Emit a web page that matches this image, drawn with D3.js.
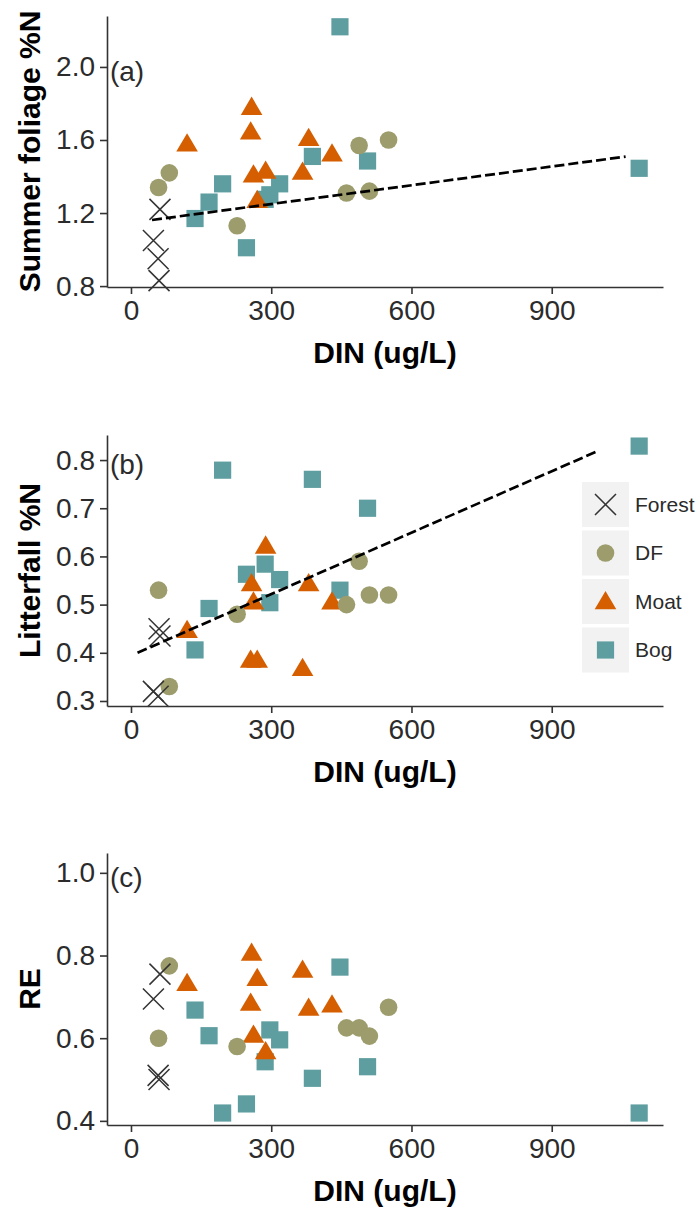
<!DOCTYPE html>
<html>
<head>
<meta charset="utf-8">
<script src="https://cdn.jsdelivr.net/npm/d3@7"></script>
<style>
  html, body { margin: 0; padding: 0; background: #fff; }
  svg { display: block; font-family: "Liberation Sans", Arial, sans-serif; }
</style>
</head>
<body>
<svg id="chart" width="696" height="1212"></svg>
<script>
// Site groups, drawn in legend order
const groups = ["Forest", "DF", "Moat", "Bog"];

// Dissolved inorganic nitrogen (ug/L) per site, by group
const forestDIN = [48, 58, 60, 62];
const dfDIN     = [59, 82, 227, 461, 488, 510, 551];
const moatDIN   = [120, 258, 256, 262, 270, 288, 367, 380, 430];
const bogDIN    = [137, 167, 196, 247, 287, 297, 318, 388, 447, 506, 1087];

// Summer foliage %N
const forestFoliage = [1.05, 0.95, 0.83, 1.22];
const dfFoliage     = [1.34, 1.42, 1.13, 1.31, 1.57, 1.32, 1.60];
const moatFoliage   = [1.58, 1.78, 1.645, 1.41, 1.27, 1.43, 1.425, 1.61, 1.525];
const bogFoliage    = [1.17, 1.26, 1.36, 1.01, 1.275, 1.30, 1.36, 1.51, 2.22, 1.485, 1.445];

// Litterfall %N
const forestLitter = [0.32, 0.31, 0.45, 0.435];
const dfLitter     = [0.53, 0.33, 0.48, 0.50, 0.59, 0.52, 0.52];
const moatLitter   = [0.447, 0.544, 0.385, 0.506, 0.385, 0.622, 0.368, 0.544, 0.506];
const bogLitter    = [0.406, 0.492, 0.779, 0.563, 0.584, 0.504, 0.552, 0.760, 0.530, 0.700, 0.829];

// Resorption efficiency
const forestRE = [0.695, 0.51, 0.50, 0.755];
const dfRE     = [0.60, 0.775, 0.58, 0.625, 0.625, 0.605, 0.675];
const moatRE   = [0.733, 0.806, 0.685, 0.608, 0.745, 0.568, 0.765, 0.673, 0.681];
const bogRE    = [0.668, 0.606, 0.419, 0.441, 0.543, 0.620, 0.596, 0.503, 0.772, 0.531, 0.419];

// Linear fits (end points)
const foliageFitDIN = [45, 1058];
const foliageFitN   = [1.162, 1.509];
const litterFitDIN  = [14, 999];
const litterFitN    = [0.400, 0.819];

// Axis ticks
const xTicks = [0, 300, 600, 900];
const foliageTicks = [0.8, 1.2, 1.6, 2.0];
const litterTicks = [0.3, 0.4, 0.5, 0.6, 0.7, 0.8];
const reTicks = [0.4, 0.6, 0.8, 1.0];

const colors = { Forest: "#333333", DF: "#9c9c6c", Moat: "#d55e00", Bog: "#5f9ea0" };
const dinByGroup = { Forest: forestDIN, DF: dfDIN, Moat: moatDIN, Bog: bogDIN };

const panels = [
  { tag: "(a)", title: "Summer foliage %N", top: 16, bottom: 287, domain: [0.795, 2.279],
    ticks: foliageTicks, fmt: d3.format(".1f"), labelY: 2.0,
    values: { Forest: forestFoliage, DF: dfFoliage, Moat: moatFoliage, Bog: bogFoliage },
    fit: [foliageFitDIN, foliageFitN] },
  { tag: "(b)", title: "Litterfall %N", top: 435, bottom: 706, domain: [0.2896, 0.852],
    ticks: litterTicks, fmt: d3.format(".1f"), labelY: 0.8,
    values: { Forest: forestLitter, DF: dfLitter, Moat: moatLitter, Bog: bogLitter },
    fit: [litterFitDIN, litterFitN], legend: true },
  { tag: "(c)", title: "RE", top: 853, bottom: 1125, domain: [0.390, 1.048],
    ticks: reTicks, fmt: d3.format(".1f"), labelY: 1.0,
    values: { Forest: forestRE, DF: dfRE, Moat: moatRE, Bog: bogRE } }
];

const left = 107, right = 663;
const x = d3.scaleLinear().domain([-51.3, 1138]).range([left, right]);
const svg = d3.select("#chart");
const axisColor = "#333333";
const textColor = "#2b2b2b";

// Marker shapes
function drawMarker(sel, group) {
  if (group === "Forest") {
    const h = 10.5;
    sel.append("path")
      .attr("d", `M${-h},${-h}L${h},${h}M${-h},${h}L${h},${-h}`)
      .attr("stroke", colors.Forest).attr("stroke-width", 1.5).attr("fill", "none");
  } else if (group === "DF") {
    sel.append("circle").attr("r", 8.8).attr("fill", colors.DF);
  } else if (group === "Moat") {
    sel.append("path").attr("d", "M0,-10.5L10.8,7.8L-10.8,7.8Z").attr("fill", colors.Moat);
  } else {
    sel.append("rect").attr("x", -8.6).attr("y", -8.6).attr("width", 17.2).attr("height", 17.2)
      .attr("fill", colors.Bog);
  }
}

panels.forEach(p => {
  const y = d3.scaleLinear().domain(p.domain).range([p.bottom, p.top]);
  const g = svg.append("g");

  // y axis
  const yAxis = g.append("g").attr("transform", `translate(${left},0)`)
    .call(d3.axisLeft(y).tickValues(p.ticks).tickFormat(p.fmt).tickSize(7).tickSizeOuter(0).tickPadding(5));
  yAxis.select(".domain").attr("stroke", axisColor).attr("stroke-width", 1.6);
  yAxis.selectAll(".tick line").attr("stroke", axisColor).attr("stroke-width", 1.6);
  yAxis.selectAll(".tick text").attr("fill", textColor).attr("font-size", 28)
    .attr("font-family", "Liberation Sans, Arial, sans-serif");

  // x axis
  const xAxis = g.append("g").attr("transform", `translate(0,${p.bottom})`)
    .call(d3.axisBottom(x).tickValues(xTicks).tickFormat(d3.format("d")).tickSize(7).tickSizeOuter(0).tickPadding(6));
  xAxis.select(".domain").attr("stroke", axisColor).attr("stroke-width", 1.6);
  xAxis.selectAll(".tick line").attr("stroke", axisColor).attr("stroke-width", 1.6);
  xAxis.selectAll(".tick text").attr("fill", textColor).attr("font-size", 28)
    .attr("font-family", "Liberation Sans, Arial, sans-serif");

  // axis titles
  g.append("text").attr("x", (left + right) / 2).attr("y", p.bottom + 76)
    .attr("text-anchor", "middle").attr("font-size", 30).attr("font-weight", "bold")
    .attr("fill", "#000").text("DIN (ug/L)");
  g.append("text")
    .attr("transform", `translate(40,${(p.top + p.bottom) / 2}) rotate(-90)`)
    .attr("text-anchor", "middle").attr("font-size", 30).attr("font-weight", "bold")
    .attr("fill", "#000").text(p.title);

  // panel tag
  g.append("text").attr("x", x(-45)).attr("y", y(p.labelY) + 4)
    .attr("dy", "0.35em").attr("font-size", 28).attr("fill", textColor).text(p.tag);

  // points, later groups first so the legend's first groups sit on top
  groups.slice().reverse().forEach(gr => {
    const xs = dinByGroup[gr], ys = p.values[gr];
    g.append("g").selectAll("g").data(xs.map((d, i) => [d, ys[i]])).join("g")
      .attr("transform", d => `translate(${x(d[0])},${y(d[1])})`)
      .each(function () { drawMarker(d3.select(this), gr); });
  });

  // regression line
  if (p.fit) {
    const line = d3.line().x(d => x(d[0])).y(d => y(d[1]));
    g.append("path").datum(p.fit[0].map((d, i) => [d, p.fit[1][i]]))
      .attr("d", line).attr("fill", "none").attr("stroke", "#000")
      .attr("stroke-width", 2.7).attr("stroke-dasharray", "10,4");
  }

  // legend
  if (p.legend) {
    const lg = g.append("g");
    const keyX = 582, keyW = 47, keyH = 45, keyTop = 482, step = 48.5;
    groups.forEach((gr, i) => {
      const ky = keyTop + i * step;
      lg.append("rect").attr("x", keyX).attr("y", ky).attr("width", keyW).attr("height", keyH)
        .attr("fill", "#f2f2f2");
      const m = lg.append("g").attr("transform", `translate(${keyX + keyW / 2},${ky + keyH / 2})`);
      drawMarker(m, gr);
      lg.append("text").attr("x", keyX + keyW + 6).attr("y", ky + keyH / 2).attr("dy", "0.35em")
        .attr("font-size", 21).attr("fill", textColor).text(gr);
    });
  }
});
</script>
</body>
</html>
